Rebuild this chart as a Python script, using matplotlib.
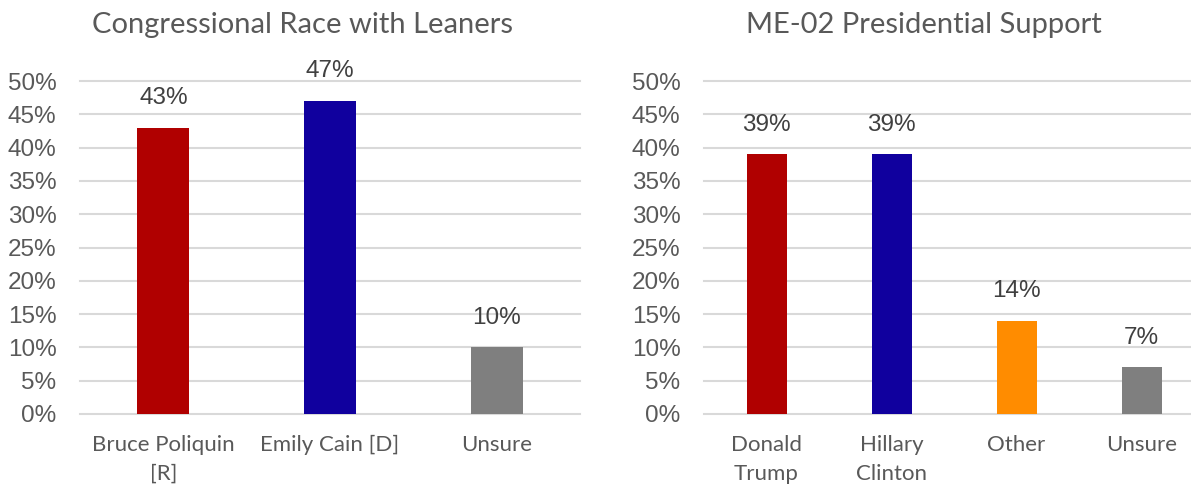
import matplotlib
matplotlib.use('Agg')
import matplotlib.pyplot as plt
from matplotlib.ticker import PercentFormatter

# Left chart: congressional race
race_labels = ['Bruce Poliquin\n[R]', 'Emily Cain [D]', 'Unsure']
race_values = [43, 47, 10]
race_colors = ['#B00000', '#10009E', '#7F7F7F']

# Right chart: presidential support
pres_labels = ['Donald\nTrump', 'Hillary\nClinton', 'Other', 'Unsure']
pres_values = [39, 39, 14, 7]
pres_colors = ['#B00000', '#10009E', '#FF8C00', '#7F7F7F']

y_ticks = [0, 5, 10, 15, 20, 25, 30, 35, 40, 45, 50]

TICK_FONT = 'Liberation Sans'
CAT_FONT = 'Lato'


def draw_panel(ax, labels, values, colors, bar_w):
    x = range(len(values))
    ax.bar(x, values, width=bar_w, color=colors, zorder=3)
    ax.set_xlim(-0.5, len(values) - 0.5)
    ax.set_ylim(0, 50)
    ax.set_yticks(y_ticks)
    ax.yaxis.set_major_formatter(PercentFormatter(decimals=0))
    ax.grid(axis='y', color='#D9D9D9', linewidth=1.5, zorder=0)
    for gl in ax.get_ygridlines():
        gl.set_clip_on(False)
    for s in ax.spines.values():
        s.set_visible(False)
    ax.tick_params(axis='both', length=0)
    ax.tick_params(axis='y', pad=17, labelsize=17.5, labelcolor='#595959')
    ax.tick_params(axis='x', pad=15)
    for t in ax.get_yticklabels():
        t.set_fontfamily(TICK_FONT)
    ax.set_xticks(list(x))
    ax.set_xticklabels(labels, fontfamily=CAT_FONT, fontsize=16,
                       color='#595959', linespacing=1.55)
    for xi, v in zip(x, values):
        ax.annotate(f'{v}%', (xi, v), xytext=(0, 17), textcoords='offset points',
                    ha='center', va='baseline', fontsize=17.5,
                    fontfamily=TICK_FONT, color='#404040')


fig = plt.figure(figsize=(11.91, 4.87), dpi=100)
ax1 = fig.add_axes([80 / 1191, 73 / 487, 500 / 1191, 333 / 487])
ax2 = fig.add_axes([704 / 1191, 73 / 487, 500 / 1191, 333 / 487])

draw_panel(ax1, race_labels, race_values, race_colors, 0.31)
draw_panel(ax2, pres_labels, pres_values, pres_colors, 0.32)

fig.text(302 / 1191, 1 - 25 / 487, 'Congressional Race with Leaners', ha='center',
         va='center', fontsize=21, fontfamily=CAT_FONT, color='#595959')
fig.text(924 / 1191, 1 - 25 / 487, 'ME-02 Presidential Support', ha='center',
         va='center', fontsize=21, fontfamily=CAT_FONT, color='#595959')

fig.savefig('out.png', dpi=100)
